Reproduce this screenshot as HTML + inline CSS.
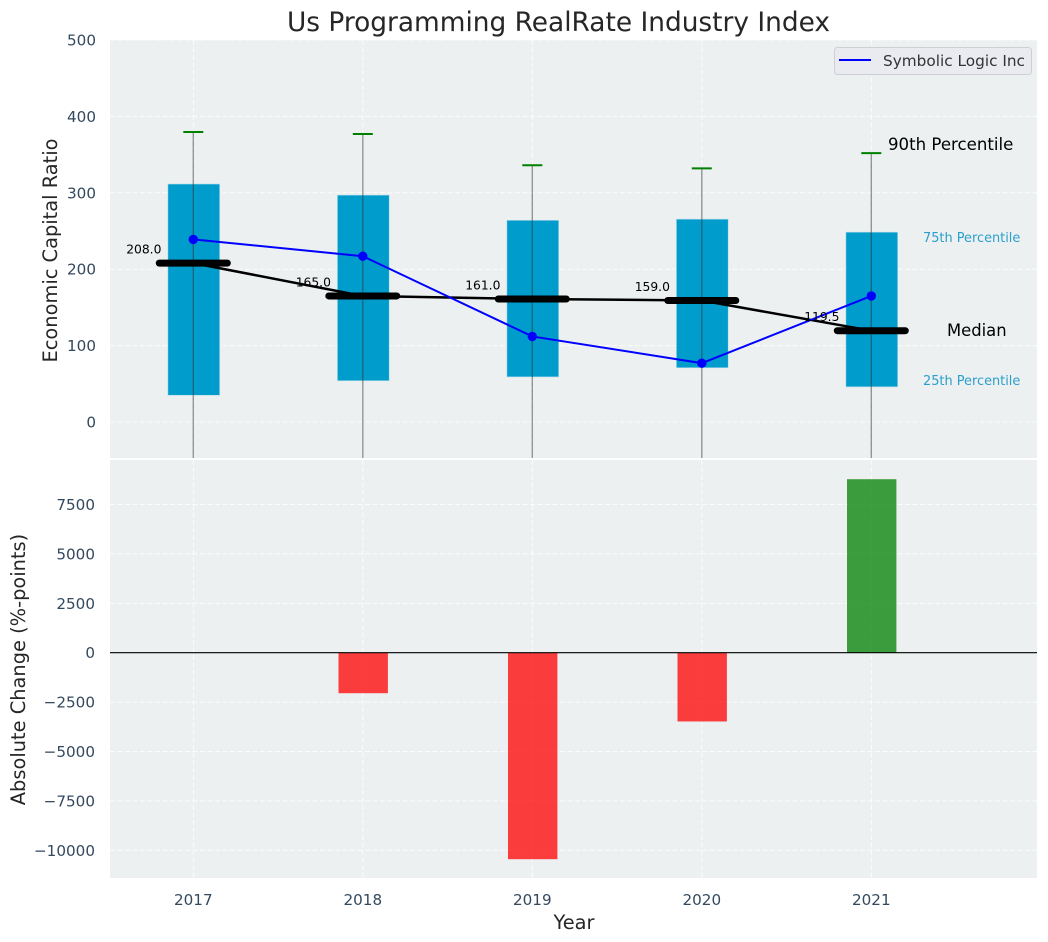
<!DOCTYPE html>
<html>
<head>
<meta charset="utf-8">
<title>Us Programming RealRate Industry Index</title>
<style>
html,body{margin:0;padding:0;background:#fff;width:1048px;height:942px;overflow:hidden}
svg{display:block;font-family:"DejaVu Sans","Liberation Sans",sans-serif}
</style>
</head>
<body>
<svg id="chart" width="1048" height="942" viewBox="0 0 1048 942" xmlns="http://www.w3.org/2000/svg">
  <defs>
    <clipPath id="clip-top"><rect x="110" y="40" width="927" height="418"/></clipPath>
    <clipPath id="clip-bottom"><rect x="110" y="460" width="927" height="418"/></clipPath>
  </defs>
  <rect x="110" y="40" width="927" height="418" fill="#ecf0f1"/>
  <rect x="110" y="460" width="927" height="418" fill="#ecf0f1"/>
  <g id="grid"></g>
  <g id="top-marks" clip-path="url(#clip-top)"></g>
  <g id="bottom-marks" clip-path="url(#clip-bottom)"></g>
  <g id="ticks"></g>
  <text x="558.5" y="31" font-size="26.4" fill="#262626" text-anchor="middle">Us Programming RealRate Industry Index</text>
  <text transform="translate(57,250.5) rotate(-90)" font-size="19.4" fill="#262626" text-anchor="middle">Economic Capital Ratio</text>
  <text transform="translate(25,669.5) rotate(-90)" font-size="19.4" fill="#262626" text-anchor="middle">Absolute Change (%-points)</text>
  <text x="574" y="929" font-size="19.4" fill="#262626" text-anchor="middle">Year</text>
  <g>
    <rect x="834.5" y="47.5" width="197" height="27" rx="3" fill="#e9ebf1" stroke="#d0d0d4"/>
    <line x1="839" y1="60" x2="871" y2="60" stroke="#0000ff" stroke-width="2"/>
    <text x="883" y="66" font-size="15.3" fill="#333">Symbolic Logic Inc</text>
  </g>
  <text x="888" y="150" font-size="16.6" fill="#000">90th Percentile</text>
  <text x="923" y="242" font-size="12.9" fill="#2b9fcb">75th Percentile</text>
  <text x="947" y="336" font-size="16.4" fill="#000">Median</text>
  <text x="923" y="385" font-size="12.9" fill="#2b9fcb">25th Percentile</text>
</svg>
<script>
const years = [2017, 2018, 2019, 2020, 2021];
const p90 = [379.5, 377, 336, 332, 352];
const p75 = [311.5, 297, 264, 265.5, 248.5];
const medians = [208, 165, 161, 159, 119.5];
const p25 = [35, 54, 59, 71, 46];
const p10 = [-120, -110, -100, -90, -100];
const company = [239, 217, 112, 77, 165];
const changes = [0, -2050, -10450, -3480, 8780];
const topTicks = [0, 100, 200, 300, 400, 500];
const bottomTicks = [-10000, -7500, -5000, -2500, 0, 2500, 5000, 7500];

const NS = 'http://www.w3.org/2000/svg';
const xPos = v => 193.3 + (v - 2017) * 169.5;
const yTop = v => 422 - v * 0.764;
const yBottom = v => 652.7 - v * 0.01976;

function make(parent, tag, attrs, text) {
  const el = document.createElementNS(NS, tag);
  for (const k in attrs) el.setAttribute(k, attrs[k]);
  if (text !== undefined) el.textContent = text;
  parent.appendChild(el);
  return el;
}
const grid = document.getElementById('grid');
const topG = document.getElementById('top-marks');
const botG = document.getElementById('bottom-marks');
const ticks = document.getElementById('ticks');
const fmt = v => (v < 0 ? '\u2212' : '') + Math.abs(v);
const dash = {stroke: '#ffffff', 'stroke-width': 1, 'stroke-dasharray': '5 2.5', opacity: 0.85};

topTicks.forEach(v => {
  const g = make(grid, 'line', {x1: 110, x2: 1037, y1: yTop(v), y2: yTop(v), ...dash});
  
  
  const t = make(ticks, 'text', {x: 96, y: yTop(v) + 5.5, 'font-size': 15.2, fill: '#34495e', 'text-anchor': 'end'}, fmt(v));
  
  
});
bottomTicks.forEach(v => {
  const g = make(grid, 'line', {x1: 110, x2: 1037, y1: yBottom(v), y2: yBottom(v), ...dash});
  
  
  const t = make(ticks, 'text', {x: 95, y: yBottom(v) + 5.5, 'font-size': 15.2, fill: '#34495e', 'text-anchor': 'end'}, fmt(v));
  
  
});
years.forEach(v => {
  const g1 = make(grid, 'line', {x1: xPos(v), x2: xPos(v), y1: 40, y2: 458, ...dash});
  
  
  const g2 = make(grid, 'line', {x1: xPos(v), x2: xPos(v), y1: 460, y2: 878, ...dash});
  
  
  const t = make(ticks, 'text', {x: xPos(v), y: 905, 'font-size': 15.2, fill: '#34495e', 'text-anchor': 'middle'}, v);
  
  
});

// percentile boxes
years.forEach((v, i) => {
  const x = xPos(v);
  const box = make(topG, 'rect', {x: x - 25.4, y: yTop(p75[i]), width: 51.8, height: yTop(p25[i]) - yTop(p75[i]), fill: '#009ccc', stroke: '#b5dcea', 'stroke-width': 0.6});
  
  
});
// whiskers and caps
years.forEach((v, i) => {
  const x = xPos(v);
  const w = make(topG, 'line', {x1: x, x2: x, y1: yTop(p90[i]), y2: yTop(p10[i]), stroke: '#333', 'stroke-opacity': 0.5, 'stroke-width': 1.4});
  
  
  const c = make(topG, 'line', {x1: x - 10, x2: x + 10, y1: yTop(p90[i]), y2: yTop(p90[i]), stroke: '#008000', 'stroke-width': 2});
  
  
});
// median connecting line
const medLine = make(topG, 'polyline', {points: years.map((v, i) => xPos(v) + ',' + yTop(medians[i])).join(' '), fill: 'none', stroke: '#000', 'stroke-width': 2.5});


// company line
const coLine = make(topG, 'polyline', {points: years.map((v, i) => xPos(v) + ',' + yTop(company[i])).join(' '), fill: 'none', stroke: '#0000ff', 'stroke-width': 2});


years.forEach((v, i) => {
  const x = xPos(v);
  const p = make(topG, 'circle', {cx: x, cy: yTop(company[i]), r: 4.7, fill: '#0000ff'});
  
  
  const m = make(topG, 'line', {x1: x - 34, x2: x + 34, y1: yTop(medians[i]), y2: yTop(medians[i]), stroke: '#000', 'stroke-width': 7, 'stroke-linecap': 'round'});
  
  
  const t = make(topG, 'text', {x: x - 49.5, y: yTop(medians[i]) - 9.5, 'font-size': 12.3, fill: '#000', 'text-anchor': 'middle'}, medians[i].toFixed(1));
  
  
});
// change bars
years.forEach((v, i) => {
  const c = changes[i];
  const top = Math.min(yBottom(c), yBottom(0));
  const b = make(botG, 'rect', {x: xPos(v) - 24.3, y: top, width: 49.4, height: Math.abs(yBottom(c) - yBottom(0)), fill: c < 0 ? '#ff0000' : '#008000', 'fill-opacity': 0.75});
  
  
});
const zero = make(botG, 'line', {x1: 110, x2: 1037, y1: yBottom(0), y2: yBottom(0), stroke: '#000', 'stroke-width': 1.1});


</script>
</body>
</html>
